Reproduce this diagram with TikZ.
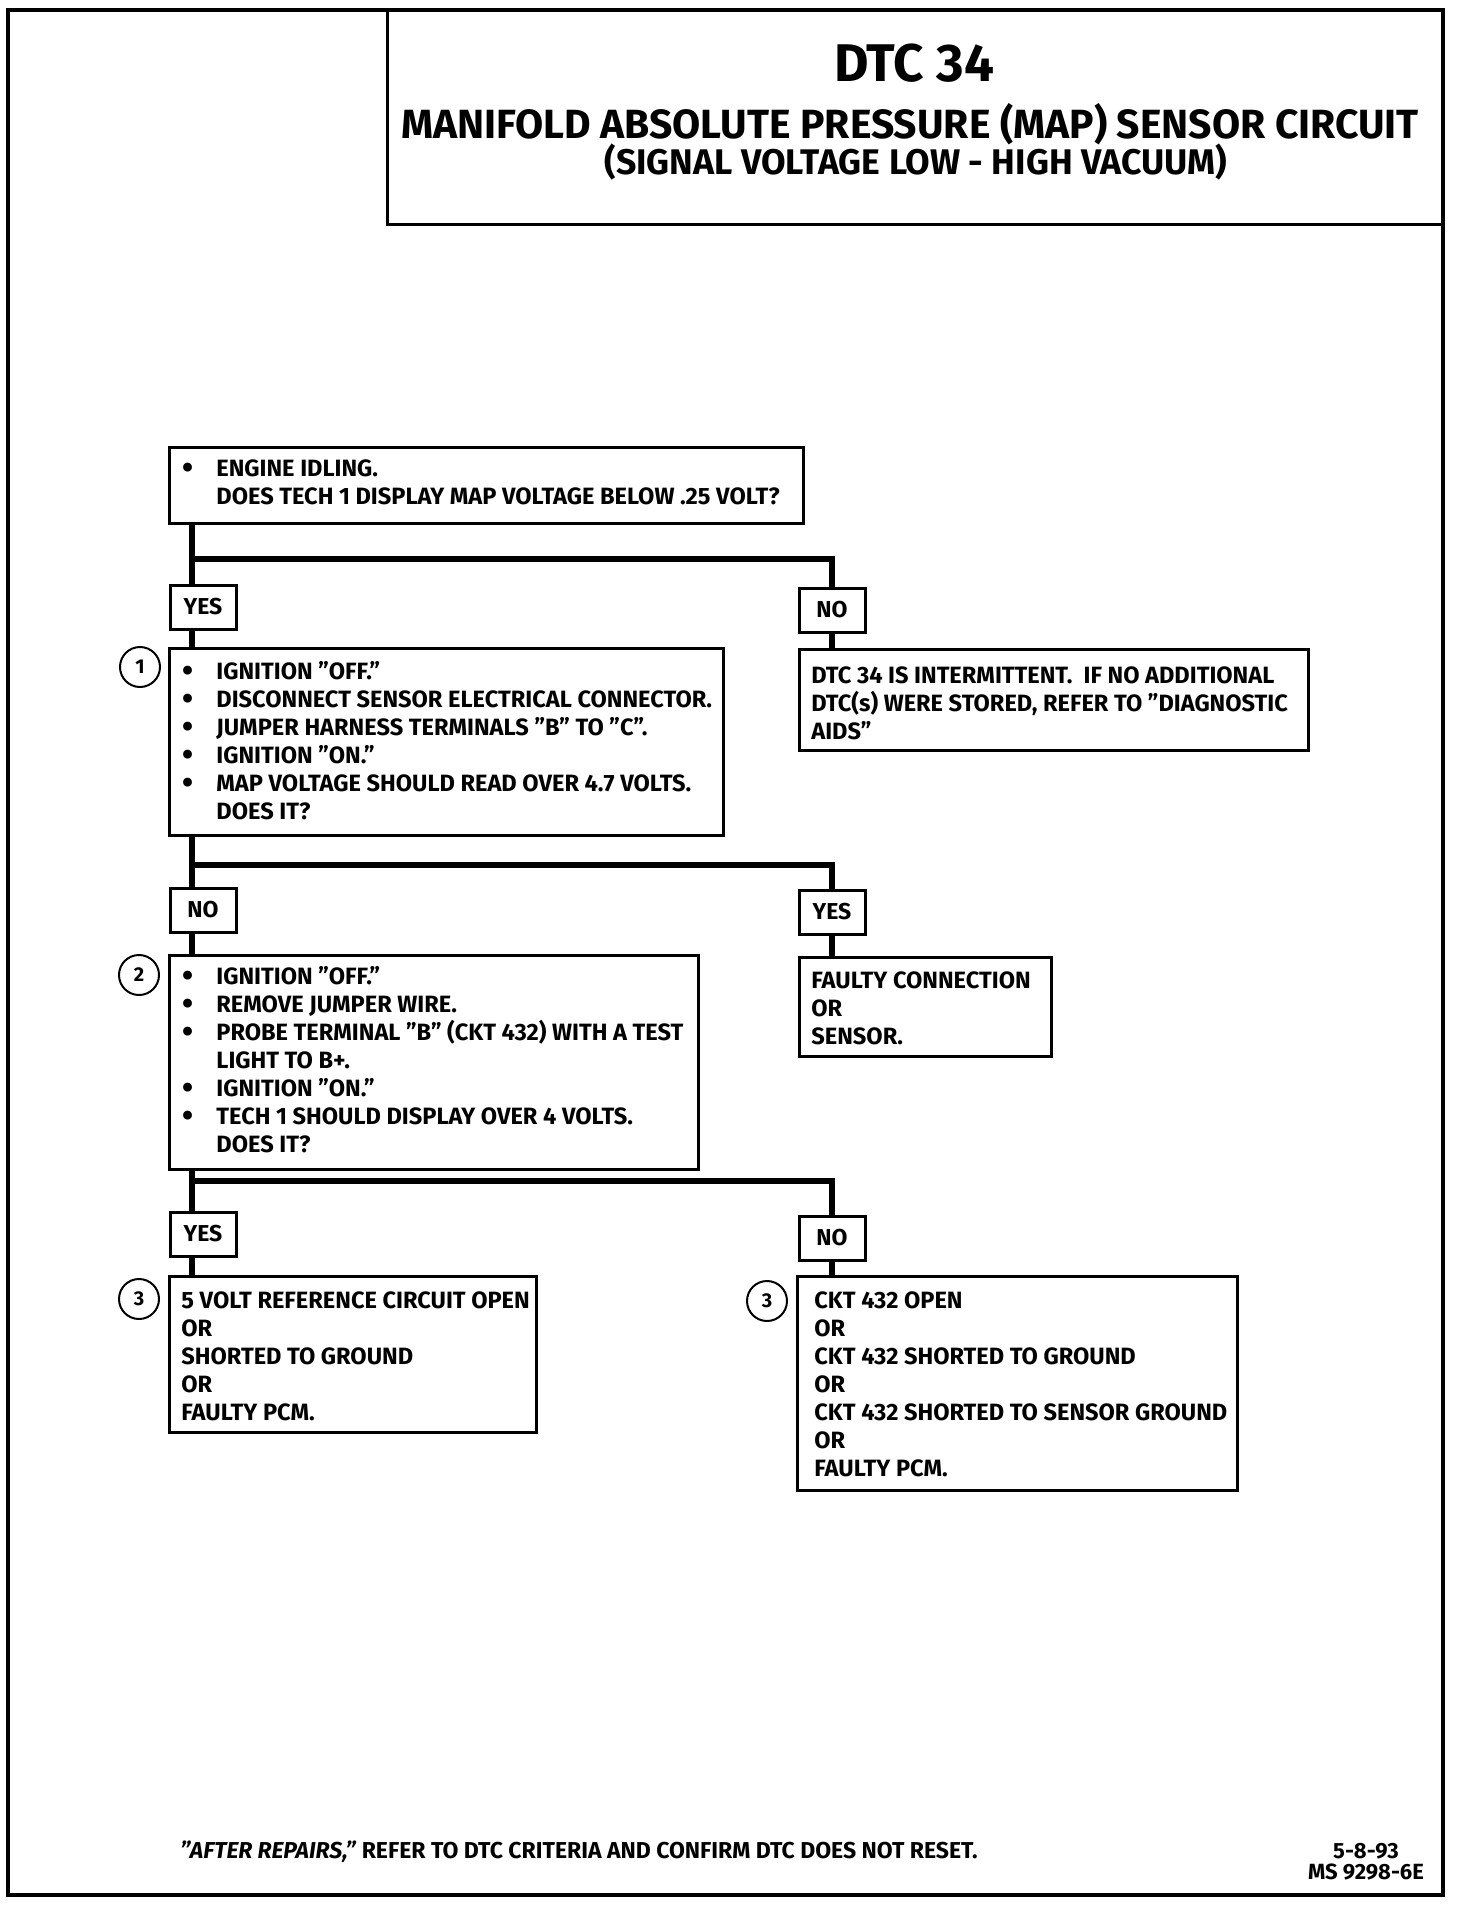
\documentclass[tikz,border=0pt]{standalone}
\usepackage{fontspec}
\setmainfont{Fira Sans}
\usetikzlibrary{fit}

\newcommand\bul{\makebox[16pt][l]{\hspace*{-1pt}\raisebox{-0.1em}{\scalebox{1.35}{\textbullet}}}}
\newcommand\ind{\hspace*{16pt}}

\tikzset{
  box/.style={draw, line width=1.5pt, inner sep=0pt},
  ansbox/.style={draw, line width=1.5pt, inner sep=0pt, minimum width=33pt, minimum height=22pt, font=\bfseries\fontsize{11.5}{12}\selectfont},
  txt/.style={anchor=base west, align=left, inner sep=0pt, font=\bfseries\fontsize{11.8}{14}\selectfont},
  conn/.style={line width=3pt},
  numcirc/.style={draw, circle, line width=1pt, minimum size=20pt, inner sep=0pt, font=\bfseries\fontsize{10}{12}\selectfont},
}

\begin{document}
\begin{tikzpicture}[x=0.5pt, y=-0.5pt]
\useasboundingbox (0,0) rectangle (1472,1906);

% page frame and title
\draw[line width=2pt] (8,10) rectangle (1443,1895);
\node[box, fit={(387,10) (1443,224)}] (title) {};
\node[font=\bfseries\fontsize{26.5}{30}\selectfont] (dtc) at (914,63) {DTC 34};
\node[font=\bfseries\fontsize{20.4}{24}\selectfont] (head) at (910,124) {MANIFOLD ABSOLUTE PRESSURE (MAP) SENSOR CIRCUIT};
\node[font=\bfseries\fontsize{17.8}{20}\selectfont] (sub) at (916,162) {(SIGNAL VOLTAGE LOW - HIGH VACUUM)};

% boxes (text nodes placed at the baseline of their last line)
\node[box, fit={(169,447) (803,523)}] (q0) {};
\node[txt] (q0t) at (184,504) {\bul ENGINE IDLING.\\ \ind DOES TECH 1 DISPLAY MAP VOLTAGE BELOW .25 VOLT?};

\node[ansbox] (yes1) at (203,607) {YES};
\node[ansbox] (no1) at (832,610) {NO};

\node[box, fit={(169,648) (723,835)}] (b1) {};
\node[txt] (b1t) at (184,819) {\bul IGNITION "OFF."\\
\bul DISCONNECT SENSOR ELECTRICAL CONNECTOR.\\
\bul JUMPER HARNESS TERMINALS "B" TO "C".\\
\bul IGNITION "ON."\\
\bul MAP VOLTAGE SHOULD READ OVER 4.7 VOLTS.\\
\ind DOES IT?};
\node[numcirc] (n1) at (140,667) {1};

\node[box, fit={(799,649) (1308,750)}] (r1) {};
\node[txt] (r1t) at (811,739) {DTC 34 IS INTERMITTENT.\ \ IF NO ADDITIONAL\\
DTC(s) WERE STORED, REFER TO "DIAGNOSTIC\\
AIDS"};

\node[ansbox] (no2) at (203,910) {NO};
\node[ansbox] (yes2) at (832,912) {YES};

\node[box, fit={(169,955) (698,1169)}] (b2) {};
\node[txt] (b2t) at (184,1152) {\bul IGNITION "OFF."\\
\bul REMOVE JUMPER WIRE.\\
\bul PROBE TERMINAL "B" (CKT 432) WITH A TEST\\
\ind LIGHT TO B+.\\
\bul IGNITION "ON."\\
\bul TECH 1 SHOULD DISPLAY OVER 4 VOLTS.\\
\ind DOES IT?};
\node[numcirc] (n2) at (139,975) {2};

\node[box, fit={(799,957) (1051,1056)}] (r2) {};
\node[txt] (r2t) at (811,1044) {FAULTY CONNECTION\\ OR\\ SENSOR.};

\node[ansbox] (yes3) at (203,1234) {YES};
\node[ansbox] (no3) at (832,1238) {NO};

\node[box, fit={(169,1276) (536,1432)}] (b3) {};
\node[txt] (b3t) at (181,1420) {5 VOLT REFERENCE CIRCUIT OPEN\\ OR\\ SHORTED TO GROUND\\ OR\\ FAULTY PCM.};
\node[numcirc] (n3) at (139,1299) {3};

\node[box, fit={(797,1276) (1237,1490)}] (r3) {};
\node[txt] (r3t) at (814,1476) {CKT 432 OPEN\\ OR\\ CKT 432 SHORTED TO GROUND\\ OR\\ CKT 432 SHORTED TO SENSOR GROUND\\ OR\\ FAULTY PCM.};
\node[numcirc] (n4) at (767,1301) {3};

% connectors
\coordinate (c1) at (192,0);
\draw[conn] (q0.south -| c1) -- (yes1.north -| c1);
\draw[conn] (c1 |- 0,559) -| (no1.north);
\draw[conn] (yes1.south -| c1) -- (b1.north -| c1);
\draw[conn] (no1.south) -- (r1.north -| no1.south);

\draw[conn] (b1.south -| c1) -- (no2.north -| c1);
\draw[conn] (c1 |- 0,865) -| (yes2.north);
\draw[conn] (no2.south -| c1) -- (b2.north -| c1);
\draw[conn] (yes2.south) -- (r2.north -| yes2.south);

\draw[conn] (b2.south -| c1) -- (yes3.north -| c1);
\draw[conn] (c1 |- 0,1181) -| (no3.north);
\draw[conn] (yes3.south -| c1) -- (b3.north -| c1);
\draw[conn] (no3.south) -- (r3.north -| no3.south);

% footer
\node[anchor=base west, inner sep=0pt, font=\bfseries\fontsize{11.5}{12}\selectfont] (foot) at (180,1858) {\textit{"AFTER REPAIRS,"} REFER TO DTC CRITERIA AND CONFIRM DTC DOES NOT RESET.};
\node[align=center, inner sep=0pt, font=\bfseries\fontsize{11}{10.5}\selectfont] (code) at (1366,1862) {5-8-93\\ MS 9298-6E};
\end{tikzpicture}
\end{document}
